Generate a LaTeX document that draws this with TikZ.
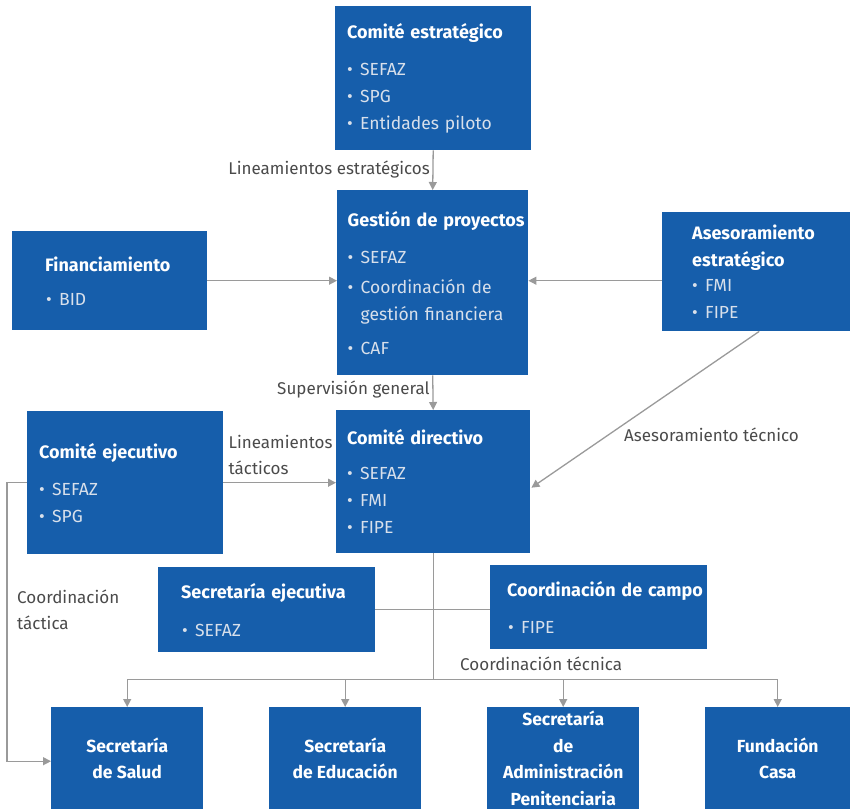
\documentclass[tikz,border=0pt]{standalone}
\usepackage{fontspec}
\setmainfont{Fira Sans}
\usetikzlibrary{arrows.meta,calc}
\definecolor{boxblue}{HTML}{165EAB}
\definecolor{itemc}{HTML}{D8E0EB}
\definecolor{linec}{HTML}{9A9A9A}
\definecolor{labc}{HTML}{4A4A4A}
\newcommand\ttl[1]{{\fontsize{18}{27}\selectfont\bfseries\color{white}#1}}
\newcommand\bul[1]{\makebox[13pt][l]{•}#1}
\begin{document}
\begin{tikzpicture}[x=1pt,y=-1pt,
  blk/.style={fill=boxblue, draw=none, anchor=north west, inner ysep=0pt,
    align=left, text=itemc, font=\fontsize{17.5}{27}\selectfont},
  fin/.style={fill=boxblue, draw=none, anchor=north west, inner sep=0pt,
    align=center, text=white, font=\fontsize{17.5}{26.5}\selectfont\bfseries},
  lab/.style={text=labc, inner sep=0pt, align=left, font=\fontsize{17}{26}\selectfont},
  arr/.style={draw=linec, line width=1.3pt, -{Triangle[length=8pt,width=8pt]}},
  ln/.style={draw=linec, line width=1.3pt}]
\useasboundingbox (0,0) rectangle (850,809);

% boxes
\node[blk, minimum width=196pt, minimum height=144pt, text width=172pt, inner xsep=12pt] (ce) at (335,6)
  {\ttl{Comité estratégico}\\[10pt]\bul{SEFAZ}\\\bul{SPG}\\\bul{Entidades piloto}};
\node[blk, minimum width=191pt, minimum height=185pt, text width=191pt, inner xsep=0pt] (gp) at (337,190)
  {\hspace*{10.5pt}\mbox{\ttl{Gestión de proyectos}}\\[10pt]\hspace*{10.5pt}\bul{SEFAZ}\\[3pt]\hspace*{10.5pt}\bul{Coordinación de}\\\hspace*{23.5pt}gestión financiera\\[7pt]\hspace*{10.5pt}\bul{CAF}};
\node[blk, minimum width=195pt, minimum height=99pt, text width=195pt, inner xsep=0pt, align=left] (fi) at (12,231)
  {\hspace*{33pt}\ttl{Financiamiento}\\[7pt]\hspace*{34pt}\bul{BID}};
\node[blk, minimum width=188pt, minimum height=119pt, text width=188pt, inner xsep=0pt] (as) at (662,212)
  {\hspace*{30pt}\ttl{Asesoramiento}\\\hspace*{30pt}\ttl{estratégico}\\[-2pt]\hspace*{30pt}\bul{FMI}\\\hspace*{30pt}\bul{FIPE}};
\node[blk, minimum width=194pt, minimum height=143pt, text width=172pt, inner xsep=11pt] (cd) at (336,410)
  {\ttl{Comité directivo}\\[8pt]\bul{SEFAZ}\\\bul{FMI}\\\bul{FIPE}};
\node[blk, minimum width=196pt, minimum height=143pt, text width=172pt, inner xsep=12pt] (cj) at (27,411)
  {\ttl{Comité ejecutivo}\\[10pt]\bul{SEFAZ}\\\bul{SPG}};
\node[blk, minimum width=217pt, minimum height=85pt, text width=217pt, inner xsep=0pt] (se) at (158,567)
  {\hspace*{23pt}\ttl{Secretaría ejecutiva}\\[11pt]\hspace*{24pt}\bul{SEFAZ}};
\node[blk, minimum width=217pt, minimum height=84pt, text width=217pt, inner xsep=0pt] (cc) at (490,565)
  {\hspace*{17pt}\ttl{Coordinación de campo}\\[10pt]\hspace*{18pt}\bul{FIPE}};

\node[fin, minimum width=152pt, minimum height=102pt] (s1) at (51,707) {Secretaría\\de Salud};
\node[fin, minimum width=152pt, minimum height=102pt] (s2) at (269,707) {Secretaría\\de Educación};
\node[fin, minimum width=152pt, minimum height=102pt] (s3) at (487,707) {Secretaría\\de\\Administración\\Penitenciaria};
\node[fin, minimum width=145pt, minimum height=102pt] (s4) at (705,707) {Fundación\\Casa};

% connectors
\draw[arr] (ce.south) -- (gp.north);
\node[lab, anchor=east] (l1) at ($(ce.south)!0.5!(gp.north)+(-3,-1)$) {Lineamientos estratégicos};
\draw[arr] (fi.east) -- (fi.east -| gp.west);
\draw[arr] (as.west |- fi.east) -- (gp.east |- fi.east);
\draw[arr] (gp.south) -- (cd.north);
\node[lab, anchor=east] (l2) at ($(gp.south)!0.4!(cd.north)+(-3,0)$) {Supervisión general};
\draw[arr] (cj.east) -- (cj.east -| cd.west);
\node[lab, anchor=south west] (l3) at ($(cj.east)+(5,-8)$) {Lineamientos\\tácticos};
\coordinate (dstart) at ($(as.south)+(3,0)$);
\draw[arr] (dstart) -- ($(cd.east)+(1,6)$);
\node[lab, anchor=west] (l4) at (624,435) {Asesoramiento técnico};

\coordinate (bus) at ($(cd.south)+(0,126)$);
\draw[ln] (cd.south) -- (bus);
\draw[ln] (se.east) -- (se.east -| cc.west);
\draw[ln] (s1.north |- bus) -- (s4.north |- bus);
\foreach \s in {s1,s2,s3,s4} \draw[arr] (\s.north |- bus) -- (\s.north);
\node[lab, anchor=west] (l5) at (460,664) {Coordinación técnica};

\draw[arr] (cj.west) -- ++(-20,0) |- ($(s1.west)+(0,3)$);
\node[lab, anchor=north west] (l6) at (17,590) {Coordinación\\táctica};
\end{tikzpicture}
\end{document}
